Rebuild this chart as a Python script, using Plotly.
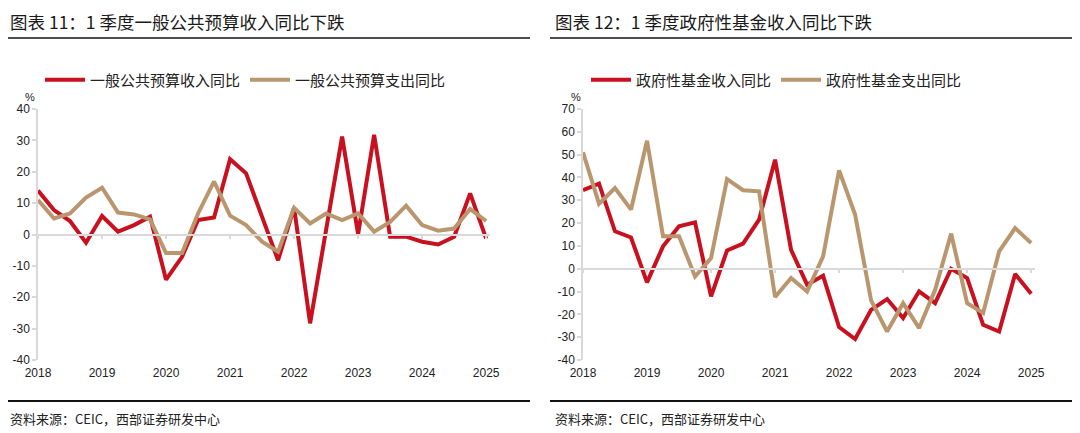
import plotly.graph_objects as go

# the page body has an 8px margin, so the figure is drawn 8px in from the top-left corner
OFF = 8
W, H = 1080 - OFF, 433 - OFF
quarters = [2018 + i / 4 for i in range(29)]
year_ticks = [2018, 2019, 2020, 2021, 2022, 2023, 2024, 2025]
year_labels = [str(y) for y in year_ticks]
y1_ticks = [-40, -30, -20, -10, 0, 10, 20, 30, 40]
y2_ticks = [-40, -30, -20, -10, 0, 10, 20, 30, 40, 50, 60, 70]

gen_rev = [14, 7.8, 4.3, -2.6, 5.9, 0.9, 3, 5.7, -14.4, -7.1, 4.6, 5.4, 24, 19.5, 5.6,
           -8.2, 8.6, -28.3, 1.5, 31.2, 0.1, 31.8, -0.7, -0.7, -2.3, -3.2, -0.7, 13.1, -1.3]
gen_exp = [11, 5.1, 6.7, 11.8, 14.9, 7, 6.4, 4.8, -5.9, -5.9, 6.7, 16.9, 6, 3, -2.3,
           -5.5, 8.5, 3.5, 6.7, 4.6, 6.7, 0.9, 4, 9.2, 3, 1.2, 1.9, 8.1, 4.3]
fund_rev = [34.4, 37.3, 16.4, 13.7, -6, 9.8, 18.6, 20.3, -12.1, 8, 11, 21.5, 47.8, 8.3, -7,
            -3.1, -25.6, -30.8, -18, -13.3, -21.6, -9.9, -15.1, 0, -4.1, -24.6, -27.5, -2.3, -11]
fund_exp = [51, 28.5, 35.4, 25.9, 56.1, 14.2, 14.2, -3.4, 4.7, 39.3, 34.4, 33.9, -12.4, -4.1, -10,
            5.4, 43.1, 23.7, -13.9, -27.5, -15.1, -26, -9.2, 15.4, -15.1, -19.4, 7.6, 17.8, 11.3]

left_title = "图表 11：1 季度一般公共预算收入同比下跌"
right_title = "图表 12：1 季度政府性基金收入同比下跌"
left_names = ["一般公共预算收入同比", "一般公共预算支出同比"]
right_names = ["政府性基金收入同比", "政府性基金支出同比"]
source = "资料来源：CEIC，西部证券研发中心"

RED = "#C8101E"
TAN = "#B9966E"
GRAY = "#D9D9D9"
CJK = "Noto Sans CJK SC"
NUM = "Liberation Sans, Arial"


def px_x(p):
    return (p - OFF) / W


def px_y(p):
    return 1 - (p - OFF) / H


fig = go.Figure()
fig.add_trace(go.Scatter(x=quarters, y=gen_rev, name=left_names[0], mode="lines",
                         line=dict(color=RED, width=4), xaxis="x", yaxis="y", legend="legend"))
fig.add_trace(go.Scatter(x=quarters, y=gen_exp, name=left_names[1], mode="lines",
                         line=dict(color=TAN, width=4), xaxis="x", yaxis="y", legend="legend"))
fig.add_trace(go.Scatter(x=quarters, y=fund_rev, name=right_names[0], mode="lines",
                         line=dict(color=RED, width=4), xaxis="x2", yaxis="y2", legend="legend2"))
fig.add_trace(go.Scatter(x=quarters, y=fund_exp, name=right_names[1], mode="lines",
                         line=dict(color=TAN, width=4), xaxis="x2", yaxis="y2", legend="legend2"))

ydom = [px_y(360), px_y(109)]
xdom1 = [px_x(38), px_x(490)]
xdom2 = [px_x(583), px_x(1035)]
xrange_ = [2018, 2025.06]
yr1 = [-40, 40]
yr2 = [-40, 70]


def xaxis_bottom(dom, anchor):
    return dict(domain=dom, range=xrange_, anchor=anchor, tickvals=year_ticks, ticktext=year_labels,
                showline=False, showgrid=False, zeroline=False, ticks="", automargin=False,
                tickfont=dict(family=NUM, size=12, color="#222"), ticklabelstandoff=4)


def xaxis_zero(dom, overlay, yr, pos_dom):
    frac = (0 - yr[0]) / (yr[1] - yr[0])
    pos = pos_dom[0] + frac * (pos_dom[1] - pos_dom[0])
    return dict(domain=dom, range=xrange_, overlaying=overlay, anchor="free", position=pos,
                tickvals=year_ticks, showticklabels=False, showline=True, linecolor=GRAY,
                linewidth=1.5, ticks="outside", ticklen=4, tickcolor=GRAY, tickwidth=1.5,
                showgrid=False, zeroline=False, automargin=False)


def yaxis(yr, anchor, ticks):
    return dict(domain=ydom, range=yr, anchor=anchor, tickvals=ticks,
                ticktext=[str(t) for t in ticks], showgrid=False, zeroline=False,
                showline=True, linecolor=GRAY, linewidth=1.5, ticks="outside", ticklen=4,
                tickcolor=GRAY, tickwidth=1.5, automargin=False,
                tickfont=dict(family=NUM, size=12, color="#222"))


fig.update_layout(
    width=W, height=H, margin=dict(l=0, r=0, t=0, b=0, autoexpand=False),
    paper_bgcolor="white", plot_bgcolor="white", showlegend=True,
    xaxis=xaxis_bottom(xdom1, "y"),
    xaxis2=xaxis_bottom(xdom2, "y2"),
    xaxis3=xaxis_zero(xdom1, "x", yr1, ydom),
    xaxis4=xaxis_zero(xdom2, "x2", yr2, ydom),
    yaxis=yaxis(yr1, "x", y1_ticks),
    yaxis2=yaxis(yr2, "x2", y2_ticks),
    legend=dict(orientation="h", x=px_x(40), y=px_y(80), xanchor="left", yanchor="middle",
                font=dict(family=CJK, size=15, color="#222"), bgcolor="rgba(0,0,0,0)",
                itemwidth=40, tracegroupgap=0),
    legend2=dict(orientation="h", x=px_x(586), y=px_y(80), xanchor="left", yanchor="middle",
                 font=dict(family=CJK, size=15, color="#222"), bgcolor="rgba(0,0,0,0)",
                 itemwidth=40),
)
# invisible helpers so the zero-level axes render
fig.add_trace(go.Scatter(x=[xrange_[0]], y=[0], xaxis="x3", yaxis="y", showlegend=False,
                         mode="markers", marker=dict(opacity=0), hoverinfo="skip"))
fig.add_trace(go.Scatter(x=[xrange_[0]], y=[0], xaxis="x4", yaxis="y2", showlegend=False,
                         mode="markers", marker=dict(opacity=0), hoverinfo="skip"))

annotations = []
for x0, title in [(8, left_title), (553, right_title)]:
    annotations.append(dict(x=px_x(x0), y=px_y(21), xref="paper", yref="paper", text=title,
                            showarrow=False, xanchor="left", yanchor="middle",
                            font=dict(family=CJK, size=17.5, color="#1a1a1a")))
    annotations.append(dict(x=px_x(x0), y=px_y(418), xref="paper", yref="paper", text=source,
                            showarrow=False, xanchor="left", yanchor="middle",
                            font=dict(family=CJK, size=13, color="#222")))
for x0 in [30, 576]:
    annotations.append(dict(x=px_x(x0), y=px_y(97), xref="paper", yref="paper", text="%",
                            showarrow=False, xanchor="center", yanchor="middle",
                            font=dict(family=NUM, size=11, color="#222")))
shapes = []
for a, b in [(8, 530), (550, 1075)]:
    shapes.append(dict(type="line", xref="paper", yref="paper", x0=px_x(a), x1=px_x(b),
                       y0=px_y(38), y1=px_y(38), line=dict(color="#111", width=1.5)))
    shapes.append(dict(type="line", xref="paper", yref="paper", x0=px_x(a), x1=px_x(b),
                       y0=px_y(401), y1=px_y(401), line=dict(color="#111", width=2)))
fig.update_layout(annotations=annotations, shapes=shapes)

fig.write_html("out.html")
